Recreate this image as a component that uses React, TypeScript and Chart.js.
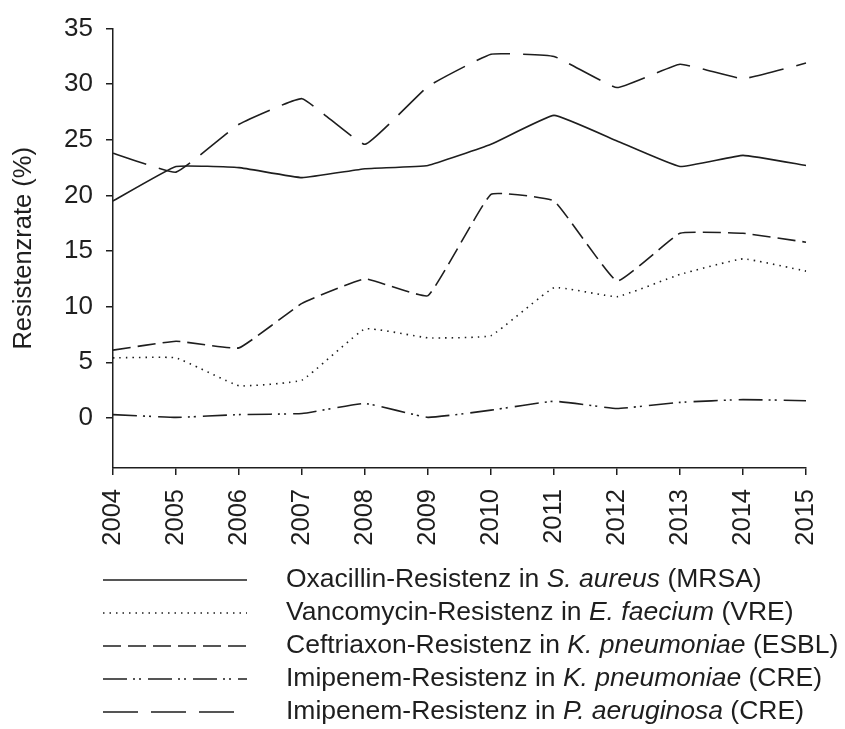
import React, { useEffect, useRef } from "react";
import { Chart, registerables } from "chart.js";

Chart.register(...registerables);

const years = ["2004", "2005", "2006", "2007", "2008", "2009", "2010", "2011", "2012", "2013", "2014", "2015"];
const yTicks = [0, 5, 10, 15, 20, 25, 30, 35];

const mrsa = [19.5, 22.6, 22.5, 21.6, 22.4, 22.7, 24.6, 27.2, 24.9, 22.6, 23.6, 22.7];
const vre = [5.4, 5.4, 2.9, 3.4, 8.0, 7.2, 7.4, 11.7, 10.9, 12.9, 14.3, 13.2];
const esbl = [6.1, 6.9, 6.3, 10.3, 12.5, 11.0, 20.1, 19.5, 12.3, 16.6, 16.6, 15.8];
const creKp = [0.3, 0.05, 0.3, 0.4, 1.3, 0.05, 0.7, 1.5, 0.85, 1.4, 1.65, 1.55];
const crePa = [23.8, 22.1, 26.4, 28.7, 24.6, 29.8, 32.7, 32.5, 29.7, 31.8, 30.5, 31.9];

const legendLabels: string[][] = [
  ["Oxacillin-Resistenz in ", "S. aureus", " (MRSA)"],
  ["Vancomycin-Resistenz in ", "E. faecium", " (VRE)"],
  ["Ceftriaxon-Resistenz in ", "K. pneumoniae", " (ESBL)"],
  ["Imipenem-Resistenz in ", "K. pneumoniae", " (CRE)"],
  ["Imipenem-Resistenz in ", "P. aeruginosa", " (CRE)"],
];

const FONT = '"Liberation Sans", Arial, Helvetica, sans-serif';
const INK = "#1e1e1e";

const dashes: number[][] = [[], [1.5, 5], [18, 7], [24, 6, 2, 4, 2, 7], [35, 13]];
const seriesList = [mrsa, vre, esbl, creKp, crePa];

const legendPlugin = {
  id: "customLegend",
  afterDraw(chart: any) {
    const ctx = chart.ctx as CanvasRenderingContext2D;
    const lineX0 = 103;
    const lineX1 = 247;
    const textX = 286;
    const top = 580;
    const step = 33;
    ctx.save();
    chart.data.datasets.forEach((ds: any, i: number) => {
      const y = top + i * step;
      ctx.strokeStyle = ds.borderColor;
      ctx.lineWidth = ds.borderWidth;
      ctx.setLineDash(ds.borderDash || []);
      ctx.beginPath();
      ctx.moveTo(lineX0, y);
      ctx.lineTo(lineX1, y);
      ctx.stroke();
      ctx.setLineDash([]);
      ctx.fillStyle = INK;
      ctx.textBaseline = "middle";
      ctx.textAlign = "left";
      let x = textX;
      legendLabels[i].forEach((seg, k) => {
        ctx.font = (k === 1 ? "italic " : "") + "26.5px " + FONT;
        ctx.fillText(seg, x, y);
        x += ctx.measureText(seg).width;
      });
    });
    ctx.restore();
  },
};

export default function App() {
  const ref = useRef<HTMLCanvasElement | null>(null);
  useEffect(() => {
    if (!ref.current) return;
    const chart = new Chart(ref.current, {
      type: "line",
      data: {
        labels: years,
        datasets: seriesList.map((d, i) => ({
          label: legendLabels[i].join(""),
          data: d,
          borderColor: INK,
          borderWidth: 1.6,
          borderDash: dashes[i],
          pointRadius: 0,
          fill: false,
          tension: 0.1,
        })),
      },
      options: {
        animation: false,
        responsive: false,
        maintainAspectRatio: false,
        layout: { autoPadding: false, padding: { left: 0, right: 39, top: 23, bottom: 0 } },
        plugins: { legend: { display: false }, tooltip: { enabled: false } },
        scales: {
          x: {
            type: "category",
            offset: false,
            grid: { drawOnChartArea: false, drawTicks: true, tickLength: 7, color: INK, lineWidth: 1.5 },
            border: { display: true, color: INK, width: 1.5 },
            ticks: {
              autoSkip: false,
              minRotation: 90,
              maxRotation: 90,
              padding: 14,
              color: INK,
              font: { family: FONT, size: 25.5 },
            },
            afterFit(scale: any) {
              scale.height = 261;
              scale.paddingLeft = 0;
              scale.paddingRight = 0;
            },
          },
          y: {
            min: -4.5,
            max: 35,
            grid: { drawOnChartArea: false, drawTicks: true, tickLength: 7, color: INK, lineWidth: 1.5 },
            border: { display: true, color: INK, width: 1.5 },
            ticks: {
              padding: 13,
              color: INK,
              font: { family: FONT, size: 26 },
            },
            afterBuildTicks(scale: any) {
              scale.ticks = yTicks.map((v) => ({ value: v }));
            },
            title: {
              display: true,
              text: "Resistenzrate (%)",
              color: INK,
              font: { family: FONT, size: 25.5 },
              padding: { top: 9, bottom: 0 },
            },
            afterFit(scale: any) {
              scale.width = 113;
            },
          },
        },
      },
      plugins: [legendPlugin],
    });
    return () => chart.destroy();
  }, []);
  return (
    <div style={{ position: "fixed", left: 0, top: 0, width: 845, height: 729, background: "#fff" }}>
      <canvas ref={ref} width={845} height={729} style={{ display: "block" }} />
    </div>
  );
}
